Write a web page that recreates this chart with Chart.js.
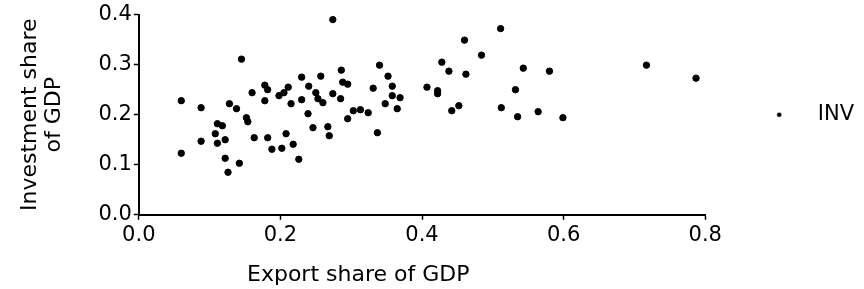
<!DOCTYPE html>
<html lang="en">
<head>
    <meta charset="UTF-8">
    <title>Investment vs export share</title>
    <script src="https://cdn.jsdelivr.net/npm/chart.js"></script>
    <style>
        body { margin: 0; background: #fff; }
        #wrap { width: 864px; height: 289px; }
    </style>
</head>
<body>
<div id="wrap"><canvas id="inv" width="864" height="289"></canvas></div>
<script>
    // values (x = export share, y = investment share)
    const exportShare = [0.060, 0.060, 0.088, 0.088, 0.111, 0.118, 0.108, 0.111, 0.122, 0.122,
        0.126, 0.128, 0.138, 0.142, 0.145, 0.152, 0.154, 0.160, 0.163, 0.178,
        0.182, 0.178, 0.182, 0.188, 0.198, 0.205, 0.202, 0.208, 0.211, 0.215,
        0.218, 0.226, 0.230, 0.230, 0.239, 0.240, 0.246, 0.250, 0.253, 0.257,
        0.260, 0.267, 0.269, 0.274, 0.274, 0.285, 0.286, 0.288, 0.295, 0.295,
        0.303, 0.313, 0.324, 0.331, 0.337, 0.340, 0.348, 0.352, 0.358, 0.358,
        0.369, 0.365, 0.407, 0.422, 0.422, 0.428, 0.438, 0.442, 0.452, 0.460,
        0.462, 0.484, 0.511, 0.512, 0.532, 0.535, 0.543, 0.564, 0.580, 0.599,
        0.717, 0.787];
    const investShare = [0.228, 0.123, 0.214, 0.147, 0.182, 0.178, 0.162, 0.143, 0.150, 0.113,
        0.085, 0.222, 0.212, 0.103, 0.311, 0.194, 0.186, 0.244, 0.154, 0.259,
        0.250, 0.228, 0.154, 0.131, 0.238, 0.244, 0.133, 0.162, 0.255, 0.222,
        0.141, 0.111, 0.275, 0.230, 0.202, 0.257, 0.174, 0.244, 0.232, 0.277,
        0.224, 0.176, 0.158, 0.390, 0.242, 0.232, 0.289, 0.265, 0.261, 0.192,
        0.208, 0.210, 0.204, 0.253, 0.164, 0.299, 0.222, 0.277, 0.257, 0.238,
        0.234, 0.212, 0.255, 0.248, 0.242, 0.305, 0.287, 0.208, 0.218, 0.349,
        0.281, 0.319, 0.372, 0.214, 0.250, 0.196, 0.293, 0.206, 0.287, 0.194,
        0.299, 0.273];
    const seriesName = 'INV';
    const xTicks = [0.0, 0.2, 0.4, 0.6, 0.8];
    const yTicks = [0.0, 0.1, 0.2, 0.3, 0.4];
    const xTitle = 'Export share of GDP';
    const yTitle = ['Investment share', 'of GDP'];

    Chart.defaults.font.family = '"DejaVu Sans", sans-serif';
    Chart.defaults.font.size = 21;
    Chart.defaults.color = '#000';

    // small dot for the legend marker
    const legendDot = document.createElement('canvas');
    legendDot.width = 6; legendDot.height = 6;
    const dctx = legendDot.getContext('2d');
    dctx.fillStyle = '#000';
    dctx.beginPath(); dctx.arc(3, 3, 2.3, 0, Math.PI * 2); dctx.fill();

    // x title sits left of centre in the original, so draw it by hand
    const xTitlePlugin = {
        id: 'xTitle',
        afterDraw(chart) {
            const c = chart.ctx;
            c.save();
            c.font = '22px "DejaVu Sans", sans-serif';
            c.fillStyle = '#000';
            c.textAlign = 'left';
            c.textBaseline = 'alphabetic';
            c.fillText(xTitle, 247, 281);
            c.restore();
        }
    };

    const points = exportShare.map((x, i) => ({ x: x, y: investShare[i] }));

    new Chart(document.getElementById('inv'), {
        type: 'scatter',
        data: {
            datasets: [{
                label: seriesName,
                data: points,
                backgroundColor: '#000',
                borderColor: '#000',
                pointRadius: 3.2,
                pointHoverRadius: 3.2
            }]
        },
        options: {
            responsive: false,
            animation: false,
            layout: { padding: { left: 18, right: 0, top: 0, bottom: 38 } },
            plugins: {
                tooltip: { enabled: false },
                legend: {
                    position: 'right',
                    fullSize: false,
                    labels: {
                        usePointStyle: true,
                        pointStyleWidth: 56,
                        padding: 46,
                        font: { size: 21 },
                        generateLabels(chart) {
                            const items = Chart.defaults.plugins.legend.labels.generateLabels(chart);
                            items.forEach(it => { it.pointStyle = legendDot; });
                            return items;
                        }
                    }
                }
            },
            scales: {
                x: {
                    type: 'linear',
                    min: xTicks[0],
                    max: xTicks[xTicks.length - 1],
                    afterBuildTicks(axis) { axis.ticks = xTicks.map(v => ({ value: v })); },
                    ticks: { callback: v => v.toFixed(1), padding: 3, maxRotation: 0 },
                    grid: { drawOnChartArea: false, tickLength: 5, color: '#000', tickWidth: 1.5 },
                    border: { color: '#000', width: 2 }
                },
                y: {
                    min: yTicks[0],
                    max: yTicks[yTicks.length - 1],
                    afterBuildTicks(axis) { axis.ticks = yTicks.map(v => ({ value: v })); },
                    ticks: { callback: v => v.toFixed(1), padding: 2 },
                    grid: { drawOnChartArea: false, tickLength: 5, color: '#000', tickWidth: 1.5 },
                    border: { color: '#000', width: 2 },
                    title: {
                        display: true,
                        text: yTitle,
                        font: { size: 22, lineHeight: 1.1 },
                        padding: { top: 0, bottom: 30 }
                    }
                }
            }
        },
        plugins: [xTitlePlugin]
    });
</script>
</body>
</html>
